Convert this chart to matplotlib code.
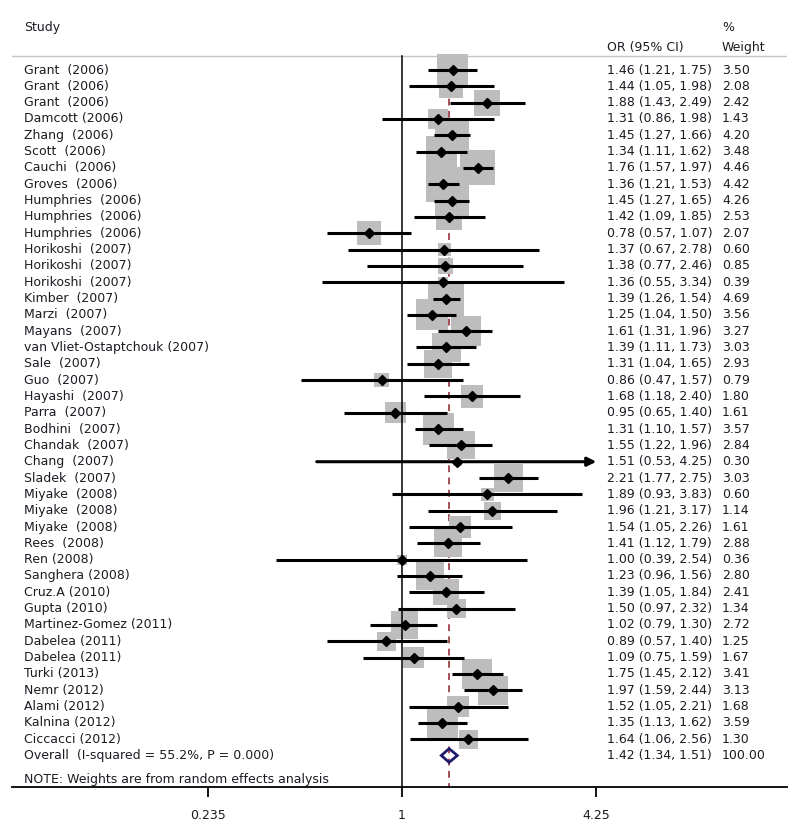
import numpy as np
import matplotlib
matplotlib.use('Agg')
from matplotlib import pyplot as plt
from matplotlib.patches import Polygon

plt.rcParams['font.family'] = ['DejaVu Sans']

# studies, odds ratios, confidence limits, % weight
studies = ['Grant  (2006)', 'Grant  (2006)', 'Grant  (2006)', 'Damcott (2006)', 'Zhang  (2006)',
           'Scott  (2006)', 'Cauchi  (2006)', 'Groves  (2006)', 'Humphries  (2006)', 'Humphries  (2006)',
           'Humphries  (2006)', 'Horikoshi  (2007)', 'Horikoshi  (2007)', 'Horikoshi  (2007)', 'Kimber  (2007)',
           'Marzi  (2007)', 'Mayans  (2007)', 'van Vliet-Ostaptchouk (2007)', 'Sale  (2007)', 'Guo  (2007)',
           'Hayashi  (2007)', 'Parra  (2007)', 'Bodhini  (2007)', 'Chandak  (2007)', 'Chang  (2007)',
           'Sladek  (2007)', 'Miyake  (2008)', 'Miyake  (2008)', 'Miyake  (2008)', 'Rees  (2008)',
           'Ren (2008)', 'Sanghera (2008)', 'Cruz.A (2010)', 'Gupta (2010)', 'Martinez-Gomez (2011)',
           'Dabelea (2011)', 'Dabelea (2011)', 'Turki (2013)', 'Nemr (2012)', 'Alami (2012)',
           'Kalnina (2012)', 'Ciccacci (2012)']
odds = [1.46, 1.44, 1.88, 1.31, 1.45, 1.34, 1.76, 1.36, 1.45, 1.42, 0.78, 1.37, 1.38, 1.36, 1.39,
        1.25, 1.61, 1.39, 1.31, 0.86, 1.68, 0.95, 1.31, 1.55, 1.51, 2.21, 1.89, 1.96, 1.54, 1.41,
        1.00, 1.23, 1.39, 1.50, 1.02, 0.89, 1.09, 1.75, 1.97, 1.52, 1.35, 1.64]
ci_low = [1.21, 1.05, 1.43, 0.86, 1.27, 1.11, 1.57, 1.21, 1.27, 1.09, 0.57, 0.67, 0.77, 0.55, 1.26,
          1.04, 1.31, 1.11, 1.04, 0.47, 1.18, 0.65, 1.10, 1.22, 0.53, 1.77, 0.93, 1.21, 1.05, 1.12,
          0.39, 0.96, 1.05, 0.97, 0.79, 0.57, 0.75, 1.45, 1.59, 1.05, 1.13, 1.06]
ci_high = [1.75, 1.98, 2.49, 1.98, 1.66, 1.62, 1.97, 1.53, 1.65, 1.85, 1.07, 2.78, 2.46, 3.34, 1.54,
           1.50, 1.96, 1.73, 1.65, 1.57, 2.40, 1.40, 1.57, 1.96, 4.25, 2.75, 3.83, 3.17, 2.26, 1.79,
           2.54, 1.56, 1.84, 2.32, 1.30, 1.40, 1.59, 2.12, 2.44, 2.21, 1.62, 2.56]
weights = [3.50, 2.08, 2.42, 1.43, 4.20, 3.48, 4.46, 4.42, 4.26, 2.53, 2.07, 0.60, 0.85, 0.39, 4.69,
           3.56, 3.27, 3.03, 2.93, 0.79, 1.80, 1.61, 3.57, 2.84, 0.30, 3.03, 0.60, 1.14, 1.61, 2.88,
           0.36, 2.80, 2.41, 1.34, 2.72, 1.25, 1.67, 3.41, 3.13, 1.68, 3.59, 1.30]
overall_label = 'Overall  (I-squared = 55.2%, P = 0.000)'
overall_or, overall_lo, overall_hi, overall_w = 1.42, 1.34, 1.51, 100.00
xticks = [0.235, 1, 4.25]
xticklabels = ['0.235', '1', '4.25']
plot_max = 4.25

fig = plt.figure(figsize=(8, 8.36), dpi=100)
ax = fig.add_axes([12/800, 49/836, 775/800, 787/836])
ax.set_xscale('log')
ax.set_xlim(np.exp(-390/134.3), np.exp(385/134.3))
ax.set_ylim(43.93, -4.29)

n = len(studies)
rows = np.arange(n)
fs = 9.0
txt = '#1e1a22'
yt = ax.get_yaxis_transform()
x_name, x_or, x_w = 0.0155, 0.768, 0.916

# reference lines
ax.plot([0, 1], [-0.83, -0.83], transform=yt, color='#c4c4c4', lw=1, zorder=1)
ax.plot([1, 1], [-0.83, 43.93], color='black', lw=1.1, zorder=4)
ax.plot([overall_or, overall_or], [-0.5, 43.93], color='#8b1e2a', lw=1.1,
        dashes=(4.5, 3.5), zorder=2)

# weight boxes
ax.scatter(odds, rows, marker='s', s=142.8*np.array(weights), color='#bdbdbd',
           edgecolors='none', zorder=3)

# confidence intervals
for i in range(n):
    if ci_high[i] >= plot_max:
        ax.annotate('', xy=(plot_max, i), xytext=(ci_low[i], i),
                    arrowprops=dict(arrowstyle='-|>', lw=2.2, color='black',
                                    mutation_scale=13, shrinkA=0, shrinkB=0), zorder=5)
    else:
        ax.plot([ci_low[i], ci_high[i]], [i, i], color='black', lw=2.2,
                solid_capstyle='butt', zorder=5)
ax.plot(odds, rows, 'D', color='black', markersize=4.6, zorder=6)

# overall diamond
orow = n
dia = Polygon([(overall_lo, orow), (overall_or, orow - 0.42), (overall_hi, orow),
               (overall_or, orow + 0.42)], closed=True, fill=False,
              edgecolor='#1f1d6b', lw=2, zorder=6)
ax.add_patch(dia)

# text columns
for i in range(n):
    ax.text(x_name, i, studies[i], transform=yt, fontsize=fs, color=txt, va='center')
    ax.text(x_or, i, f'{odds[i]:.2f} ({ci_low[i]:.2f}, {ci_high[i]:.2f})',
            transform=yt, fontsize=fs, color=txt, va='center')
    ax.text(x_w, i, f'{weights[i]:.2f}', transform=yt, fontsize=fs, color=txt, va='center')
ax.text(x_name, orow, overall_label, transform=yt, fontsize=fs, color=txt, va='center')
ax.text(x_or, orow, f'{overall_or:.2f} ({overall_lo:.2f}, {overall_hi:.2f})',
        transform=yt, fontsize=fs, color=txt, va='center')
ax.text(x_w, orow, f'{overall_w:.2f}', transform=yt, fontsize=fs, color=txt, va='center')
ax.text(x_name, 43.44, 'NOTE: Weights are from random effects analysis', transform=yt,
        fontsize=fs, color=txt, va='center')

# header
ax.text(x_name, -2.63, 'Study', transform=yt, fontsize=fs, color=txt, va='center')
ax.text(x_or, -1.41, 'OR (95% CI)', transform=yt, fontsize=fs, color=txt, va='center')
ax.text(x_w, -2.63, '%', transform=yt, fontsize=fs, color=txt, va='center')
ax.text(x_w, -1.41, 'Weight', transform=yt, fontsize=fs, color=txt, va='center')

# axis
for s in ['top', 'left', 'right']:
    ax.spines[s].set_visible(False)
ax.spines['bottom'].set_linewidth(1.3)
ax.set_yticks([])
ax.set_xticks(xticks)
ax.set_xticklabels(xticklabels, fontsize=fs, color=txt)
ax.minorticks_off()
ax.tick_params(axis='x', length=7.5, width=1.3, pad=8)

fig.savefig('out.png', dpi=100)
